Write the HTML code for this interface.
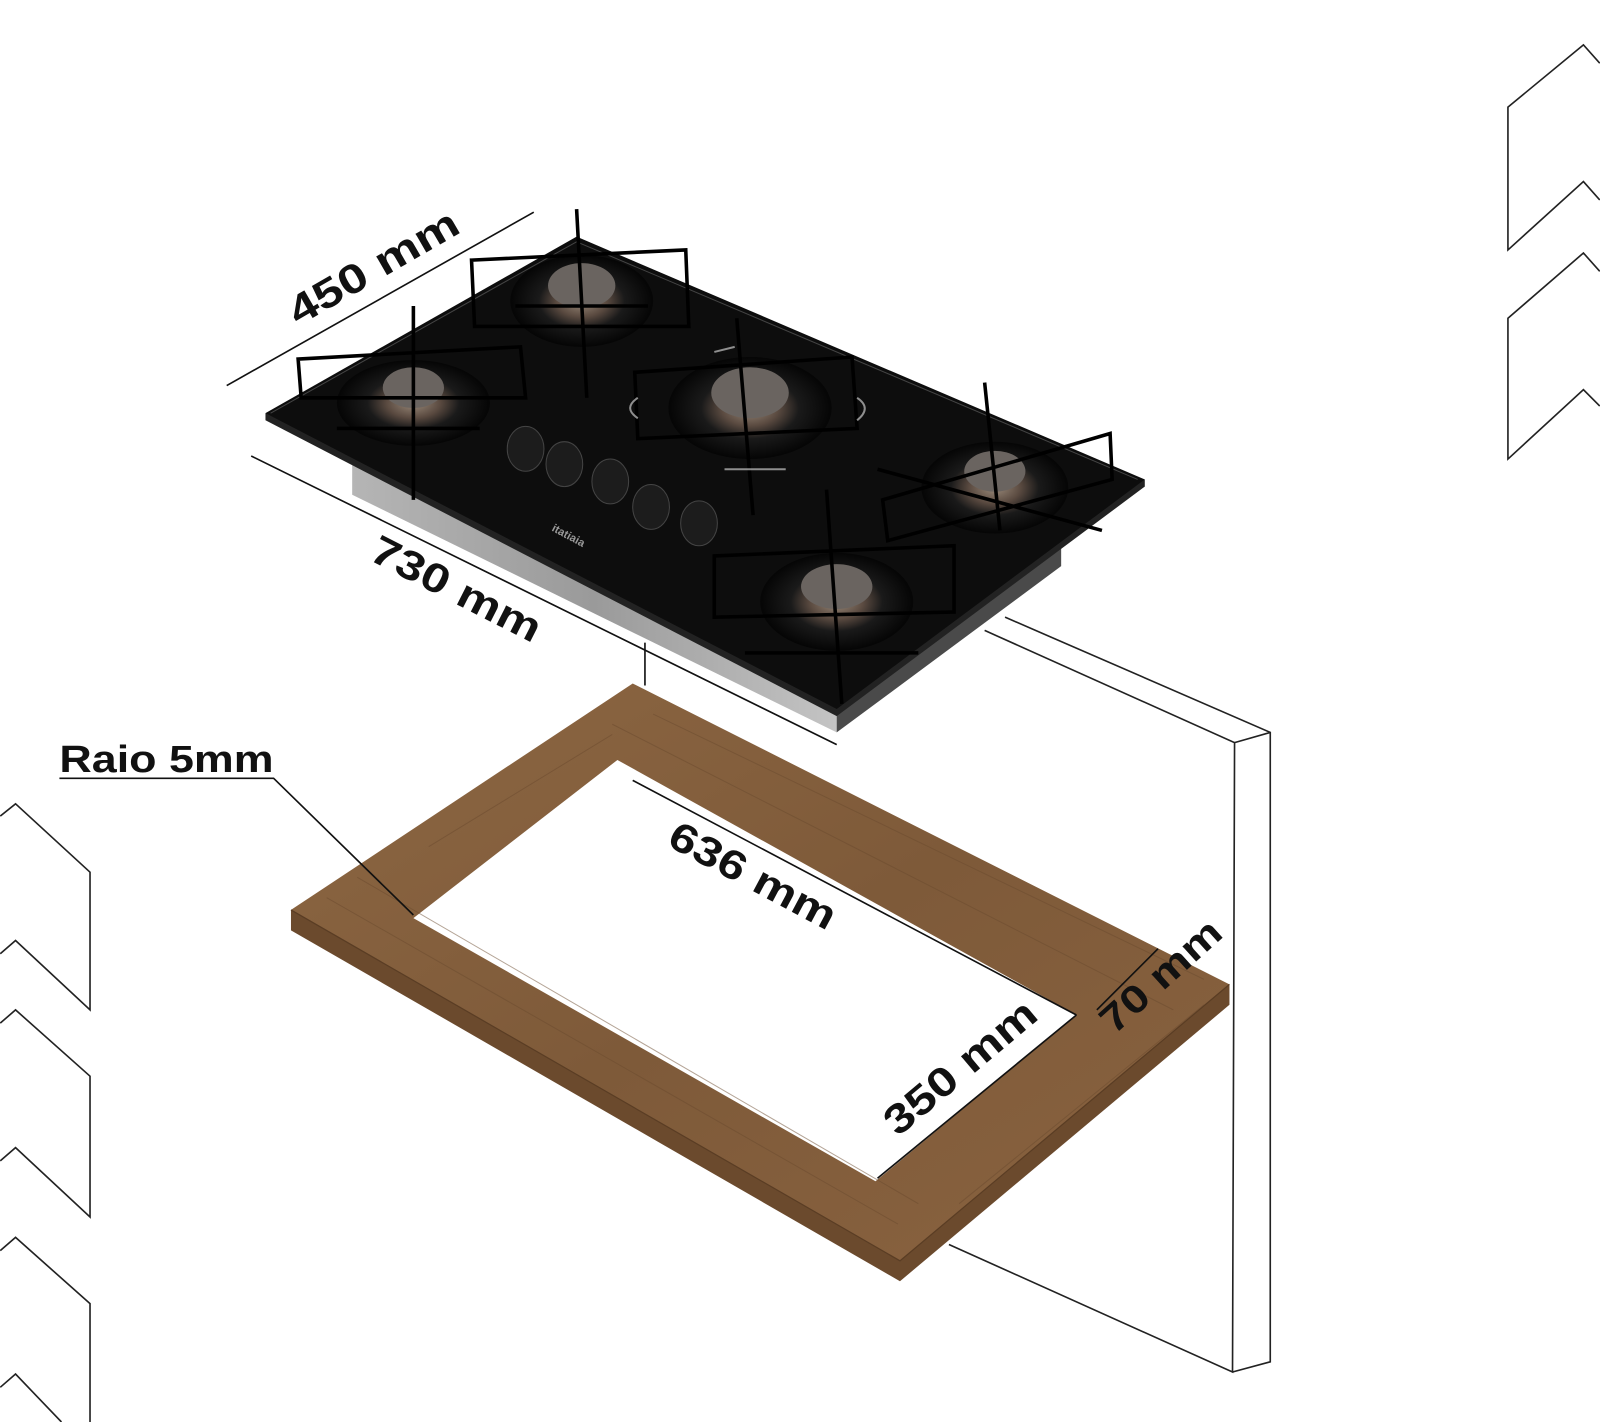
<!DOCTYPE html>
<html><head><meta charset="utf-8"><style>
html,body{margin:0;padding:0;background:#fff;}
svg{display:block;}
text{font-family:"Liberation Sans",sans-serif;font-weight:bold;fill:#111;}
</style></head><body>
<svg width="1600" height="1422" viewBox="0 0 1568 1394" xmlns="http://www.w3.org/2000/svg">
<defs>
<linearGradient id="wood" x1="0" y1="0" x2="1" y2="1">
<stop offset="0" stop-color="#8d6743"/><stop offset="0.5" stop-color="#7e5a39"/><stop offset="1" stop-color="#8a6340"/>
</linearGradient>
<linearGradient id="steel" x1="0" y1="0" x2="1" y2="0">
<stop offset="0" stop-color="#b5b5b5"/><stop offset="0.5" stop-color="#9a9a9a"/><stop offset="1" stop-color="#c4c4c4"/>
</linearGradient>
<radialGradient id="burn"><stop offset="0" stop-color="#9a8a7a"/><stop offset="0.35" stop-color="#5a4a40"/><stop offset="0.6" stop-color="#1a1a1a"/><stop offset="1" stop-color="#050505"/></radialGradient>
</defs>

<!-- chevrons -->
<g fill="none" stroke="#222" stroke-width="1.6">
<path d="M1568,62 L1552,44 L1478,105 L1478,245 L1552,178 L1568,196"/>
<path d="M1568,266 L1552,248 L1478,312 L1478,450 L1552,382 L1568,398"/>
<path d="M0,800 L15,788 L88,855 L88,990 L15,922 L0,935"/>
<path d="M0,1003 L15,990 L88,1055 L88,1193 L15,1125 L0,1138"/>
<path d="M0,1226 L15,1213 L88,1278 L88,1394"/>
<path d="M0,1360 L15,1347 L60,1394"/>
</g>

<!-- wall panel -->
<g fill="none" stroke="#222" stroke-width="1.6">
<path d="M965,618 L1210,728 L1208,1345 L930,1220"/>
<path d="M985,605 L1245,718 L1245,1335 L1208,1345"/>
<path d="M1210,728 L1245,718"/>
</g>

<!-- wood frame -->
<path d="M285,892 L285,912 L882,1256 L1205,985 L1205,965 L882,1236 Z" fill="#6b4a2d"/>
<path fill-rule="evenodd" fill="url(#wood)" d="M285,892 L620,670 L1205,965 L882,1236 Z M405,900 L605,745 L1055,995 L858,1158 Z"/>
<path d="M285,892 L882,1236 L1205,965" fill="none" stroke="#5a3d24" stroke-width="1.2"/>
<g stroke="#6b4b2f" stroke-width="1" opacity="0.5">
<path d="M320,880 L880,1200"/><path d="M350,860 L900,1180"/><path d="M640,700 L1180,960"/><path d="M600,710 L1150,990"/><path d="M420,830 L600,720"/><path d="M940,1180 L1180,985"/>
</g>

<!-- dimension lines -->
<g stroke="#111" stroke-width="1.6" fill="none">
<path d="M222,378 L523,208"/>
<path d="M246,447 L820,730"/>
<path d="M632,630 L632,672"/>
<path d="M58,763 L268,763 L405,897"/>
<path d="M620,765 L1055,995"/>
<path d="M860,1155 L1055,995"/>
<path d="M1075,990 L1135,930"/>
</g>

<!-- hob steel box -->
<path d="M345,450 L820,698 L820,718 L345,485 Z" fill="url(#steel)"/>
<path d="M820,698 L1040,535 L1040,555 L820,718 Z" fill="#4a4a4a"/>
<!-- glass -->
<path d="M260,405 L260,412 L820,702 L1122,477 L1122,470 Z" fill="#222"/>
<path d="M260,405 L565,232 L1122,470 L820,695 Z" fill="#0d0d0d"/>
<path d="M265,405 L565,237 L1115,470" fill="none" stroke="#444" stroke-width="1"/>

<!-- burners -->
<g>
<ellipse cx="405" cy="395" rx="75" ry="42" fill="url(#burn)"/>
<ellipse cx="405" cy="380" rx="30" ry="20" fill="#6a6460"/>
<ellipse cx="570" cy="295" rx="70" ry="45" fill="url(#burn)"/>
<ellipse cx="570" cy="280" rx="33" ry="22" fill="#6a6460"/>
<ellipse cx="735" cy="400" rx="80" ry="50" fill="url(#burn)"/>
<ellipse cx="735" cy="385" rx="38" ry="25" fill="#6a6460"/>
<ellipse cx="975" cy="478" rx="72" ry="45" fill="url(#burn)"/>
<ellipse cx="975" cy="462" rx="30" ry="20" fill="#6a6460"/>
<ellipse cx="820" cy="590" rx="75" ry="48" fill="url(#burn)"/>
<ellipse cx="820" cy="575" rx="35" ry="22" fill="#6a6460"/>
</g>
<!-- grates -->
<g fill="none" stroke="#000" stroke-width="3.5">
<path d="M292,352 L510,340 L515,390 L295,390 Z M405,300 L405,490 M330,420 L470,420"/>
<path d="M462,255 L672,245 L675,320 L465,320 Z M565,205 L575,390 M505,300 L635,300"/>
<path d="M622,365 L835,350 L840,420 L625,430 Z M722,312 L738,505"/>
<path d="M865,490 L1088,425 L1090,470 L870,530 Z M965,375 L980,520 M860,460 L1080,520"/>
<path d="M700,545 L935,535 L935,600 L700,605 Z M810,480 L825,690 M730,640 L900,640"/>
</g>
<g fill="none" stroke="#c8c8c8" stroke-width="2" opacity="0.7">
<path d="M625,410 Q610,400 625,390 M840,390 Q855,400 840,412 M710,460 L770,460 M700,345 L720,340"/>
</g>
<!-- knobs -->
<g fill="#1c1c1c" stroke="#444" stroke-width="1">
<ellipse cx="515" cy="440" rx="18" ry="22"/>
<ellipse cx="553" cy="455" rx="18" ry="22"/>
<ellipse cx="598" cy="472" rx="18" ry="22"/>
<ellipse cx="638" cy="497" rx="18" ry="22"/>
<ellipse cx="685" cy="513" rx="18" ry="22"/>
</g>
<text x="540" y="520" font-size="11" style="fill:#999" transform="rotate(28 540 520)">itatiaia</text>

<!-- labels -->
<text x="0" y="0" font-size="40" textLength="186" lengthAdjust="spacingAndGlyphs" transform="translate(292,320) rotate(-30)">450 mm</text>
<text x="0" y="0" font-size="40" textLength="182" lengthAdjust="spacingAndGlyphs" transform="translate(360,548) rotate(27)">730 mm</text>
<text x="58" y="757" font-size="37" textLength="210" lengthAdjust="spacingAndGlyphs">Raio 5mm</text>
<text x="0" y="0" font-size="40" textLength="180" lengthAdjust="spacingAndGlyphs" transform="translate(652,828) rotate(28)">636 mm</text>
<text x="0" y="0" font-size="40" textLength="182" lengthAdjust="spacingAndGlyphs" transform="translate(880,1115) rotate(-40)">350 mm</text>
<text x="0" y="0" font-size="38" textLength="146" lengthAdjust="spacingAndGlyphs" transform="translate(1092,1015) rotate(-42)">70 mm</text>
</svg>
</body></html>
